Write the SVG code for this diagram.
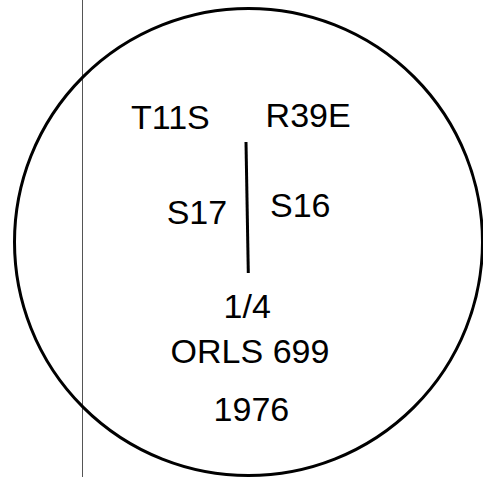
<svg xmlns="http://www.w3.org/2000/svg" width="483" height="477" viewBox="0 0 483 477">
<style>
.t{font-family:"Liberation Sans",Arial,sans-serif;font-size:34px;fill:#000}
</style>
<rect width="483" height="477" fill="#fff"/>
<line x1="82.5" y1="0" x2="82.5" y2="477" stroke="#555" stroke-width="1"/>
<g id="boundary">
<ellipse cx="248.5" cy="242" rx="234" ry="233.5" fill="none" stroke="#000" stroke-width="3"/>
</g>
<g id="connectors">
<line x1="246" y1="142" x2="248.3" y2="273" stroke="#000" stroke-width="3"/>
</g>
<g id="t11s"><text class="t" x="131" y="129.3">T11S</text></g>
<g id="r39e"><text class="t" x="265.6" y="126.7">R39E</text></g>
<g id="s17"><text class="t" x="166.7" y="224.3">S17</text></g>
<g id="s16"><text class="t" x="270" y="216.7">S16</text></g>
<g id="quarter"><text class="t" x="223.6" y="318">1/4</text></g>
<g id="orls"><text class="t" x="170.6" y="363">ORLS 699</text></g>
<g id="year"><text class="t" x="213.6" y="421">1976</text></g>
</svg>
